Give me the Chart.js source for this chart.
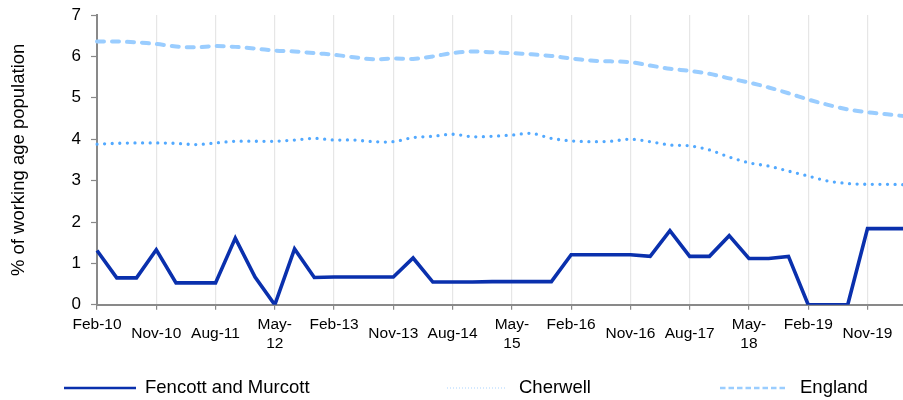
<!DOCTYPE html>
<html>
<head>
<meta charset="utf-8">
<script src="https://cdn.jsdelivr.net/npm/chart.js@4/dist/chart.umd.min.js"></script>
<style>
  html, body { margin: 0; padding: 0; background: #ffffff; overflow: hidden; }
  #wrap { width: 903px; height: 400px; overflow: hidden; }
  canvas { display: block; }
</style>
</head>
<body>
<div id="wrap"><canvas id="c" width="910" height="400"></canvas></div>
<script>
// ---- DATA ----
const categories = [
  "Feb-10","May-10","Aug-10","Nov-10",
  "Feb-11","May-11","Aug-11","Nov-11",
  "Feb-12","May-12","Aug-12","Nov-12",
  "Feb-13","May-13","Aug-13","Nov-13",
  "Feb-14","May-14","Aug-14","Nov-14",
  "Feb-15","May-15","Aug-15","Nov-15",
  "Feb-16","May-16","Aug-16","Nov-16",
  "Feb-17","May-17","Aug-17","Nov-17",
  "Feb-18","May-18","Aug-18","Nov-18",
  "Feb-19","May-19","Aug-19","Nov-19",
  "Feb-20","May-20"
];

// Labels shown on the axis (every third quarter)
const tickLabels = [
  ["Feb-10"], ["Nov-10"], ["Aug-11"], ["May-", "12"],
  ["Feb-13"], ["Nov-13"], ["Aug-14"], ["May-", "15"],
  ["Feb-16"], ["Nov-16"], ["Aug-17"], ["May-", "18"],
  ["Feb-19"], ["Nov-19"]
];

const yTicks = [0, 1, 2, 3, 4, 5, 6, 7];

const fencottMurcott = [
  1.31, 0.65, 0.65, 1.33, 0.53, 0.53, 0.53, 1.61, 0.67, 0.00,
  1.35, 0.66, 0.67, 0.67, 0.67, 0.67, 1.13, 0.55, 0.55, 0.55,
  0.56, 0.56, 0.56, 0.56, 1.21, 1.21, 1.21, 1.21, 1.17, 1.79,
  1.17, 1.17, 1.67, 1.12, 1.12, 1.17, 0.00, 0.00, 0.00, 1.84,
  1.84, 1.84
];

const cherwell = [
  3.88, 3.90, 3.91, 3.91, 3.90, 3.87, 3.91, 3.95, 3.95, 3.95,
  3.98, 4.02, 3.98, 3.98, 3.94, 3.94, 4.04, 4.07, 4.12, 4.06,
  4.07, 4.10, 4.14, 4.02, 3.96, 3.94, 3.95, 4.00, 3.94, 3.86,
  3.84, 3.74, 3.57, 3.43, 3.35, 3.23, 3.11, 2.99, 2.93, 2.91,
  2.91, 2.90
];

const england = [
  6.36, 6.36, 6.34, 6.30, 6.24, 6.22, 6.25, 6.23, 6.19, 6.14,
  6.12, 6.08, 6.04, 5.98, 5.93, 5.95, 5.94, 6.00, 6.08, 6.12,
  6.10, 6.08, 6.05, 6.01, 5.95, 5.90, 5.88, 5.86, 5.78, 5.70,
  5.65, 5.58, 5.47, 5.37, 5.25, 5.11, 4.96, 4.83, 4.72, 4.65,
  4.60, 4.55
];

const seriesNames = ["Fencott and Murcott", "Cherwell", "England"];

// ---- STYLE ----
const FONT = '"Liberation Sans", Arial, Helvetica, sans-serif';
const AXIS = '#898989';

function tickLabelFor(index) {
  if (index % 3 !== 0) return null;
  const t = tickLabels[index / 3];
  if (!t) return null;
  return t.length > 1 ? t : t[0];
}

function isLowLabel(label) {
  return typeof label === 'string' && (label.startsWith('Nov') || label.startsWith('Aug'));
}

const legendPlugin = {
  id: 'customLegend',
  afterDraw(chart, args, opts) {
    const ctx = chart.ctx;
    const y = opts.y;
    ctx.save();
    opts.items.forEach((it, i) => {
      const ds = chart.data.datasets[i];
      ctx.beginPath();
      ctx.strokeStyle = it.color;
      ctx.lineWidth = it.width;
      ctx.lineCap = it.cap || 'butt';
      ctx.setLineDash(it.dash || []);
      ctx.moveTo(it.x1, y);
      ctx.lineTo(it.x2, y);
      ctx.stroke();
      ctx.setLineDash([]);
      ctx.fillStyle = '#000000';
      ctx.font = opts.fontSize + 'px ' + FONT;
      ctx.textBaseline = 'middle';
      ctx.textAlign = 'left';
      ctx.fillText(ds.label, it.tx, y);
    });
    ctx.restore();
  }
};

new Chart(document.getElementById('c'), {
  type: 'line',
  data: {
    labels: categories,
    datasets: [
      {
        label: seriesNames[0],
        data: fencottMurcott,
        borderColor: '#0a30ad',
        borderWidth: 3.6,
        tension: 0,
        pointRadius: 0,
        borderJoinStyle: 'miter',
        fill: false
      },
      {
        label: seriesNames[1],
        data: cherwell,
        borderColor: '#52a9ff',
        borderWidth: 3.3,
        borderDash: [0, 7.6],
        borderCapStyle: 'round',
        tension: 0.33,
        pointRadius: 0,
        fill: false
      },
      {
        label: seriesNames[2],
        data: england,
        borderColor: '#9acdff',
        borderWidth: 4,
        borderDash: [7, 8],
        borderCapStyle: 'round',
        tension: 0.33,
        pointRadius: 0,
        fill: false
      }
    ]
  },
  options: {
    responsive: false,
    animation: false,
    devicePixelRatio: 1,
    layout: { padding: { top: 15, right: 3, bottom: 41, left: 0 } },
    plugins: {
      legend: { display: false },
      tooltip: { enabled: false },
      customLegend: {
        y: 388,
        fontSize: 18.5,
        items: [
          { x1: 64, x2: 136, tx: 145, color: '#0a30ad', width: 2.6 },
          { x1: 447, x2: 507, tx: 519, color: '#a9d4ff', width: 1.2, dash: [1, 2] },
          { x1: 720, x2: 788, tx: 800, color: '#9acdff', width: 2.4, dash: [5.5, 3] }
        ]
      }
    },
    scales: {
      x: {
        type: 'category',
        offset: false,
        border: { display: true, color: AXIS, width: 2 },
        grid: {
          display: true,
          drawOnChartArea: true,
          drawTicks: true,
          color: '#e6e6e6',
          lineWidth: 1.2,
          tickColor: AXIS,
          tickLength: 5,
          tickWidth: 1.2
        },
        ticks: {
          autoSkip: false,
          maxRotation: 0,
          minRotation: 0,
          padding: 6,
          color: '#000000',
          font: (ctx) => {
            const lbl = ctx.tick ? ctx.tick.label : null;
            return { family: FONT, size: 15.5, lineHeight: isLowLabel(lbl) ? 2.32 : 1.2 };
          },
          callback: (value, index) => tickLabelFor(index)
        }
      },
      y: {
        min: 0,
        max: 7,
        afterFit: (scale) => {
          scale.width = 97;
          scale.paddingTop = 0;
          scale.paddingBottom = 0;
        },
        afterBuildTicks: (scale) => { scale.ticks = yTicks.map(v => ({ value: v })); },
        border: { display: true, color: AXIS, width: 2 },
        grid: {
          display: true,
          drawOnChartArea: false,
          drawTicks: true,
          tickLength: 6,
          tickColor: AXIS,
          tickWidth: 1.2
        },
        ticks: {
          stepSize: 1,
          padding: 10,
          color: '#000000',
          font: { family: FONT, size: 17 }
        },
        title: {
          display: true,
          text: '% of working age population',
          color: '#000000',
          font: { family: FONT, size: 18.5 },
          padding: { top: 8, bottom: 0 }
        }
      }
    }
  },
  plugins: [legendPlugin]
});
</script>
</body>
</html>
